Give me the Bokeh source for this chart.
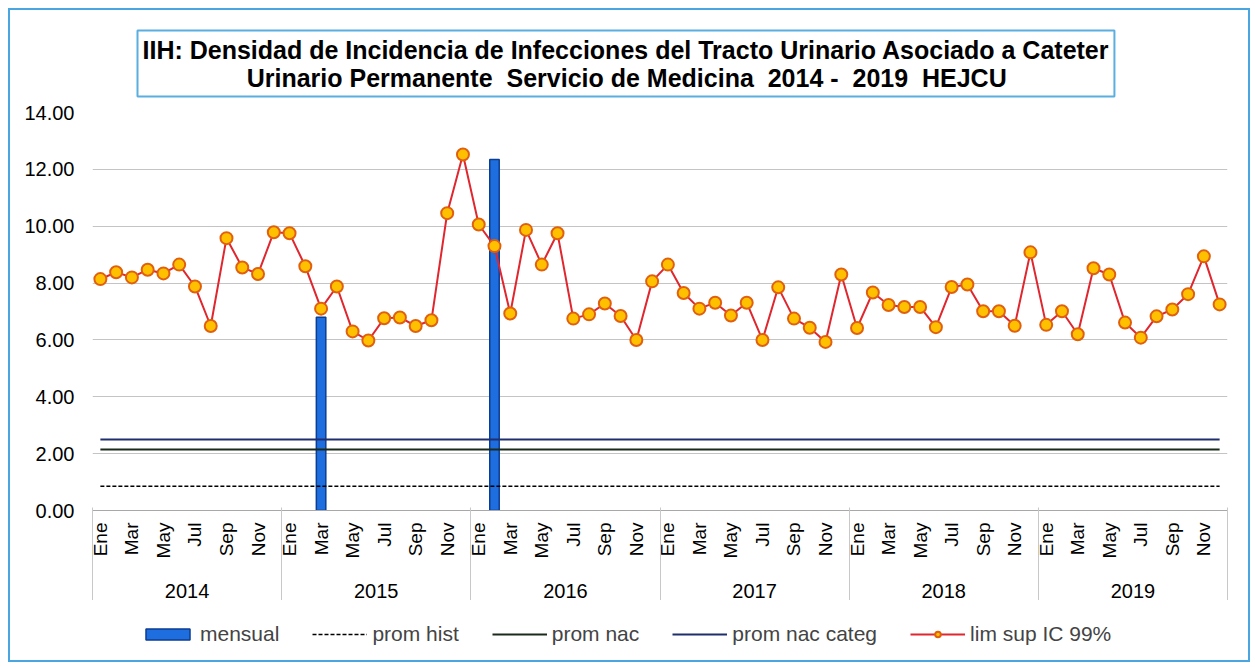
import numpy as np
from bokeh.plotting import figure
from bokeh.layouts import column
from bokeh.models import (ColumnDataSource, LinearAxis, FixedTicker, NumeralTickFormatter,
                          Legend, LegendItem, Range1d, Title, CustomJSTickFormatter)
from bokeh.embed import file_html
from bokeh.resources import INLINE

years = ["2014", "2015", "2016", "2017", "2018", "2019"]
months = ["Ene", "Feb", "Mar", "Abr", "May", "Jun", "Jul", "Ago", "Sep", "Oct", "Nov", "Dic"]

lim_sup_2014 = [8.14, 8.38, 8.20, 8.47, 8.34, 8.65, 7.88, 6.49, 9.58, 8.55, 8.32, 9.79]
lim_sup_2015 = [9.75, 8.59, 7.10, 7.88, 6.30, 5.98, 6.76, 6.79, 6.49, 6.69, 10.46, 12.52]
lim_sup_2016 = [10.06, 9.30, 6.93, 9.87, 8.65, 9.75, 6.75, 6.90, 7.28, 6.84, 6.00, 8.06]
lim_sup_2017 = [8.65, 7.65, 7.10, 7.31, 6.86, 7.31, 6.00, 7.85, 6.75, 6.43, 5.93, 8.30]
lim_sup_2018 = [6.42, 7.67, 7.23, 7.16, 7.16, 6.45, 7.86, 7.95, 7.01, 7.01, 6.50, 9.08]
lim_sup_2019 = [6.53, 7.01, 6.20, 8.52, 8.30, 6.61, 6.08, 6.83, 7.07, 7.61, 8.94, 7.25]

# mensual: only two months with a value (Mar 2015, Feb 2016)
mensual_months = ["2015-Mar", "2016-Feb"]
mensual_values = [6.80, 12.35]

prom_hist = 0.85
prom_nac = 2.15
prom_nac_categ = 2.50

legend_labels = ["mensual", "prom hist", "prom nac", "prom nac categ", "lim sup IC 99%"]

title_line1 = "IIH: Densidad de Incidencia de Infecciones del Tracto Urinario Asociado a Cateter"
title_line2 = "Urinario Permanente\u00a0 Servicio de Medicina\u00a0 2014 -\u00a0 2019\u00a0 HEJCU"

lim_sup = lim_sup_2014 + lim_sup_2015 + lim_sup_2016 + lim_sup_2017 + lim_sup_2018 + lim_sup_2019
labels = [f"{y}-{m}" for y in years for m in months]
n = len(labels)
xpos = list(range(n))
mensual = [np.nan] * n
for lab, v in zip(mensual_months, mensual_values):
    mensual[labels.index(lab)] = v

src = ColumnDataSource(dict(
    x=xpos, lim=lim_sup, mens=mensual,
    ph=[prom_hist] * n, pn=[prom_nac] * n, pnc=[prom_nac_categ] * n,
))

FONT = "Liberation Sans"

BAR = dict(fill_color="#1f6ee0", line_color="#0b3d91", line_width=1.5)
PH = dict(line_color="black", line_width=1.5, line_dash="4 2")
PN = dict(line_color="#1b2b1b", line_width=2)
PNC = dict(line_color="#1f2f6e", line_width=2)
LIM = dict(line_color="#e0262e", line_width=2)
PTS = dict(size=12, fill_color="#ffc000", line_color="#e06010", line_width=2)

p = figure(frame_width=1135, frame_height=398, output_backend="svg", toolbar_location=None,
           x_range=Range1d(-0.5, n - 0.5), y_range=Range1d(0, 14),
           min_border_left=82, min_border_right=21, min_border_top=102, min_border_bottom=0,
           background_fill_color="white", border_fill_color="white")
p.outline_line_color = None

# centre the second title line under the first with no-break spaces
title_text = title_line1 + "\n" + "\u00a0" * 15 + title_line2
p.title = Title(text=title_text, align="left", offset=45, standoff=32,
                text_font=FONT, text_font_size="25px", text_font_style="bold",
                text_color="black", text_line_height=1.0,
                border_line_color="#5aaee0", border_line_width=2,
                background_fill_color="white", padding=5)

# y axis
p.yaxis.ticker = FixedTicker(ticks=list(range(0, 15, 2)))
p.yaxis.formatter = NumeralTickFormatter(format="0.00")
p.yaxis.axis_line_color = None
p.yaxis.major_tick_line_color = None
p.yaxis.minor_tick_line_color = None
p.yaxis.major_label_text_font = FONT
p.yaxis.major_label_text_font_size = "20px"
p.yaxis.major_label_text_color = "black"
p.yaxis.major_label_standoff = 12
p.ygrid.ticker = FixedTicker(ticks=list(range(0, 15, 2)))
p.ygrid.grid_line_color = "#c4c4c4"
p.xgrid.visible = False

# month axis
p.xaxis.ticker = FixedTicker(ticks=[i for i in xpos if i % 2 == 0])
p.xaxis.formatter = CustomJSTickFormatter(args=dict(names=months),
                                          code="return names[Math.round(tick) % 12]")
p.xaxis.major_label_orientation = np.pi / 2
p.xaxis.major_tick_line_color = None
p.xaxis.minor_tick_line_color = None
p.xaxis.axis_line_color = "#a8a8a8"
p.xaxis.major_label_standoff = 6
p.xaxis.major_label_text_font = FONT
p.xaxis.major_label_text_font_size = "19px"
p.xaxis.major_label_text_color = "black"

# year axis (labels only)
year_axis = LinearAxis(
    ticker=FixedTicker(ticks=[12 * k + 5.5 for k in range(len(years))], minor_ticks=[]),
    formatter=CustomJSTickFormatter(args=dict(names=years),
                                    code="return names[Math.floor((tick + 0.5) / 12)]"),
    axis_line_color=None, major_tick_line_color=None, minor_tick_line_color=None,
    major_tick_in=0, major_tick_out=0, minor_tick_in=0, minor_tick_out=0,
    major_label_standoff=22, major_label_text_font=FONT, major_label_text_font_size="20px",
    major_label_text_color="black")
p.add_layout(year_axis, "below")

# year separators: long inward minor ticks from an axis under the year labels
sep_axis = LinearAxis(
    ticker=FixedTicker(ticks=[], minor_ticks=[12 * k - 0.5 for k in range(len(years) + 1)]),
    axis_line_color=None, major_tick_line_color=None,
    major_tick_in=0, major_tick_out=0,
    minor_tick_in=93, minor_tick_out=0, minor_tick_line_color="#c8c8c8",
    major_label_standoff=0, major_label_text_font_size="0px")
p.add_layout(sep_axis, "below")

p.vbar(x="x", top="mens", width=0.6, source=src, **BAR)
p.line("x", "ph", source=src, **PH)
p.line("x", "pn", source=src, **PN)
p.line("x", "pnc", source=src, **PNC)
p.line("x", "lim", source=src, **LIM)
p.scatter("x", "lim", source=src, **PTS)

# legend strip under the chart, same glyph styles (renderers hold no drawable data)
lp = figure(width=1238, height=60, output_backend="svg", toolbar_location=None,
            x_range=Range1d(0, 1), y_range=Range1d(0, 1), x_axis_type=None, y_axis_type=None,
            min_border=0, background_fill_color="white", border_fill_color="white")
lp.outline_line_color = None
lp.grid.visible = False
esrc = ColumnDataSource(dict(x=[np.nan], y=[np.nan]))
l_bar = lp.vbar(x="x", top="y", width=0.6, source=esrc, **BAR)
l_ph = lp.line("x", "y", source=esrc, **PH)
l_pn = lp.line("x", "y", source=esrc, **PN)
l_pnc = lp.line("x", "y", source=esrc, **PNC)
l_lim = lp.line("x", "y", source=esrc, **LIM)
l_pts = lp.scatter("x", "y", source=esrc, **PTS)

legend = Legend(items=[
    LegendItem(label=legend_labels[0], renderers=[l_bar]),
    LegendItem(label=legend_labels[1], renderers=[l_ph]),
    LegendItem(label=legend_labels[2], renderers=[l_pn]),
    LegendItem(label=legend_labels[3], renderers=[l_pnc]),
    LegendItem(label=legend_labels[4], renderers=[l_lim, l_pts]),
], orientation="horizontal", location=(48, 14), border_line_color=None,
    background_fill_alpha=0, label_text_font=FONT, label_text_font_size="21px",
    glyph_width=55, glyph_height=14, spacing=33, label_standoff=5, padding=4, margin=0)
lp.add_layout(legend)

root = column(p, lp, spacing=0, margin=(8, 0, 0, 8),
              styles={"border": "2px solid #4aa6e0", "background-color": "white"})

open("out.html", "w").write(file_html(root, INLINE))
